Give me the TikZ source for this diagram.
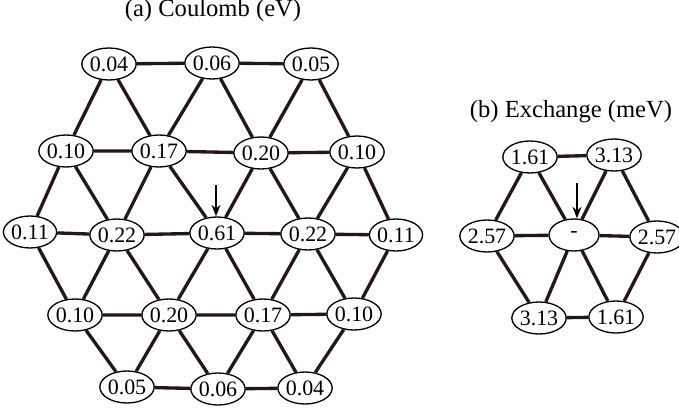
\documentclass[tikz,border=0pt]{standalone}
\usepackage{fontspec}
\setmainfont{Liberation Serif}
\usetikzlibrary{arrows.meta,shapes.geometric}
\definecolor{ink}{HTML}{231815}
\tikzset{
  site/.style={draw=black,fill=white,ellipse,line width=0.75pt,inner sep=0pt,
               minimum width=1.0cm,minimum height=0.64cm,font=\fontsize{12.5}{14}\selectfont},
  bond/.style={draw=ink,line width=1.9pt},
  ptr/.style={-{Stealth[length=2.3mm,width=1.8mm]},line width=0.8pt,draw=black},
  ttl/.style={anchor=base,font=\fontsize{14}{16}\selectfont},
}
\begin{document}
\begin{tikzpicture}[x=0.02cm,y=-0.02cm]
  \useasboundingbox (0,0) rectangle (679,412);
  % (a) Coulomb
  \node[ttl] (ta) at (213,17) {(a) Coulomb (eV)};
  \node[site] (a11) at (109,64)  {0.04};
  \node[site] (a12) at (212,63)  {0.06};
  \node[site] (a13) at (311,64)  {0.05};
  \node[site] (a21) at (66,151)  {0.10};
  \node[site] (a22) at (159,151) {0.17};
  \node[site] (a23) at (261,153) {0.20};
  \node[site] (a24) at (357,152) {0.10};
  \node[site] (a31) at (30,232)  {0.11};
  \node[site] (a32) at (117,235) {0.22};
  \node[site] (a33) at (217,233) {0.61};
  \node[site] (a34) at (308,234) {0.22};
  \node[site] (a35) at (396,235) {0.11};
  \node[site] (a41) at (75,315)  {0.10};
  \node[site] (a42) at (169,315) {0.20};
  \node[site] (a43) at (263,315) {0.17};
  \node[site] (a44) at (354,314) {0.10};
  \node[site] (a51) at (127,387) {0.05};
  \node[site] (a52) at (218,389) {0.06};
  \node[site] (a53) at (305,388) {0.04};
  \draw[bond] (a11) -- (a12) -- (a13);
  \draw[bond] (a21) -- (a22) -- (a23) -- (a24);
  \draw[bond] (a31) -- (a32) -- (a33) -- (a34) -- (a35);
  \draw[bond] (a41) -- (a42) -- (a43) -- (a44);
  \draw[bond] (a51) -- (a52) -- (a53);
  \draw[bond] (a21) -- (a11) -- (a22) -- (a12) -- (a23) -- (a13) -- (a24);
  \draw[bond] (a31) -- (a21) -- (a32) -- (a22) -- (a33) -- (a23) -- (a34) -- (a24) -- (a35);
  \draw[bond] (a31) -- (a41) -- (a32) -- (a42) -- (a33) -- (a43) -- (a34) -- (a44) -- (a35);
  \draw[bond] (a41) -- (a51) -- (a42) -- (a52) -- (a43) -- (a53) -- (a44);
  \coordinate (pa) at (216,185);
  \draw[ptr] (pa) -- (a33.north -| pa);
  % (b) Exchange
  \node[ttl] (tb) at (571,117) {(b) Exchange (meV)};
  \node[site] (b1) at (530,157) {1.61};
  \node[site] (b2) at (614,155) {3.13};
  \node[site] (b3) at (487,236) {2.57};
  \node[site] (b0) at (574,235) {-};
  \node[site] (b4) at (657,237) {2.57};
  \node[site] (b5) at (539,318) {3.13};
  \node[site] (b6) at (616,317) {1.61};
  \draw[bond] (b1) -- (b2);
  \draw[bond] (b3) -- (b0) -- (b4);
  \draw[bond] (b5) -- (b6);
  \draw[bond] (b2) -- (b4) -- (b6);
  \draw[bond] (b1) -- (b3) -- (b5);
  \draw[bond] (b1) -- (b0) -- (b6);
  \draw[bond] (b2) -- (b0) -- (b5);
  \coordinate (pb) at (577,183);
  \draw[ptr] (pb) -- (b0.north -| pb);
\end{tikzpicture}
\end{document}
